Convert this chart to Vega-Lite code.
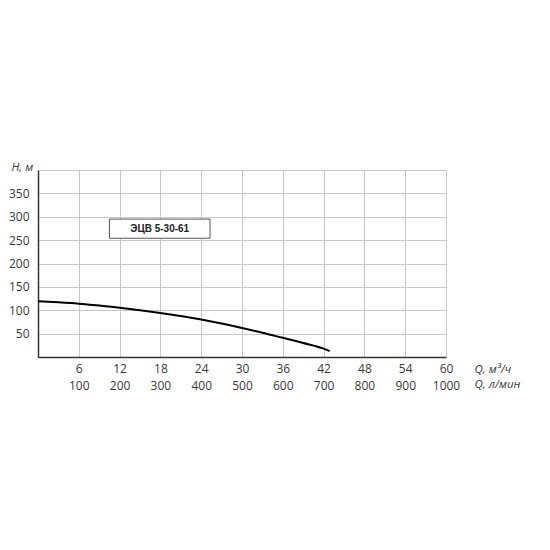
{
  "$schema": "https://vega.github.io/schema/vega-lite/v6.json",
  "autosize": {"type": "none"},
  "padding": {"left": 38, "top": 170, "right": 104, "bottom": 193},
  "width": 408,
  "height": 187,
  "background": "white",
  "config": {
    "view": {"stroke": null},
    "font": "Open Sans",
    "axis": {"labelFont": "Open Sans", "labelFontSize": 12, "labelColor": "#3a3a3a", "labelOverlap": false, "labelFlush": false}
  },
  "datasets": {
    "curve": [
      {"Q": 0, "H": 119.5}, {"Q": 3, "H": 117}, {"Q": 6, "H": 114}, {"Q": 9, "H": 110},
      {"Q": 12, "H": 105.5}, {"Q": 15, "H": 100}, {"Q": 18, "H": 94}, {"Q": 21, "H": 87.5},
      {"Q": 24, "H": 80}, {"Q": 27, "H": 71.5}, {"Q": 30, "H": 62}, {"Q": 33, "H": 52},
      {"Q": 36, "H": 41}, {"Q": 39, "H": 30}, {"Q": 42, "H": 18}, {"Q": 42.9, "H": 12.7}
    ],
    "box": [{"Q": 10.5, "Q2": 25.3, "H": 254, "H2": 295}],
    "boxlabel": [{"Q": 17.9, "H": 274.5, "t": "ЭЦВ 5-30-61"}],
    "units": [
      {"Q": 64.2, "H": -27, "t": "Q, м³/ч"},
      {"Q": 64.2, "H": -59.5, "t": "Q, л/мин"},
      {"Q": -3.9, "H": 404, "t": "H, м"}
    ]
  },
  "encoding": {
    "x": {
      "field": "Q", "type": "quantitative",
      "scale": {"domain": [0, 60], "nice": false, "zero": false},
      "axis": {
        "title": null,
        "values": [6, 12, 18, 24, 30, 36, 42, 48, 54, 60],
        "grid": true, "gridColor": "#c8c8c8", "gridWidth": 1, "gridOpacity": 1,
        "ticks": false, "labelPadding": 6,
        "domainColor": "#333333", "domainWidth": 1.5,
        "labelExpr": "[datum.label, format(datum.value * 100 / 6, 'd')]",
        "labelLineHeight": 17,
        "labelOverlap": false, "labelFlush": false
      }
    },
    "y": {
      "field": "H", "type": "quantitative",
      "scale": {"domain": [0, 400], "nice": false},
      "axis": {
        "title": null,
        "values": [50, 100, 150, 200, 250, 300, 350, 400],
        "grid": true, "gridColor": "#c8c8c8", "gridWidth": 1, "gridOpacity": 1,
        "ticks": false, "labelPadding": 9,
        "domainColor": "#333333", "domainWidth": 1.5,
        "labelExpr": "datum.value == 400 ? '' : datum.label",
        "labelOverlap": false, "labelFlush": false
      }
    }
  },
  "layer": [
    {
      "data": {"name": "curve"},
      "mark": {"type": "line", "color": "black", "strokeWidth": 2, "interpolate": "monotone"}
    },
    {
      "data": {"name": "box"},
      "mark": {"type": "rect", "fill": "white", "stroke": "#555555", "strokeWidth": 1},
      "encoding": {
        "x2": {"field": "Q2"},
        "y2": {"field": "H2"}
      }
    },
    {
      "data": {"name": "boxlabel"},
      "mark": {"type": "text", "font": "Liberation Sans", "fontWeight": "bold", "fontSize": 10, "color": "#222222", "align": "center", "baseline": "middle"},
      "encoding": {"text": {"field": "t"}}
    },
    {
      "data": {"name": "units"},
      "mark": {"type": "text", "font": "Open Sans", "fontStyle": "italic", "fontSize": 11.5, "color": "#3a3a3a", "align": "left", "baseline": "middle"},
      "encoding": {"text": {"field": "t"}}
    }
  ]
}
